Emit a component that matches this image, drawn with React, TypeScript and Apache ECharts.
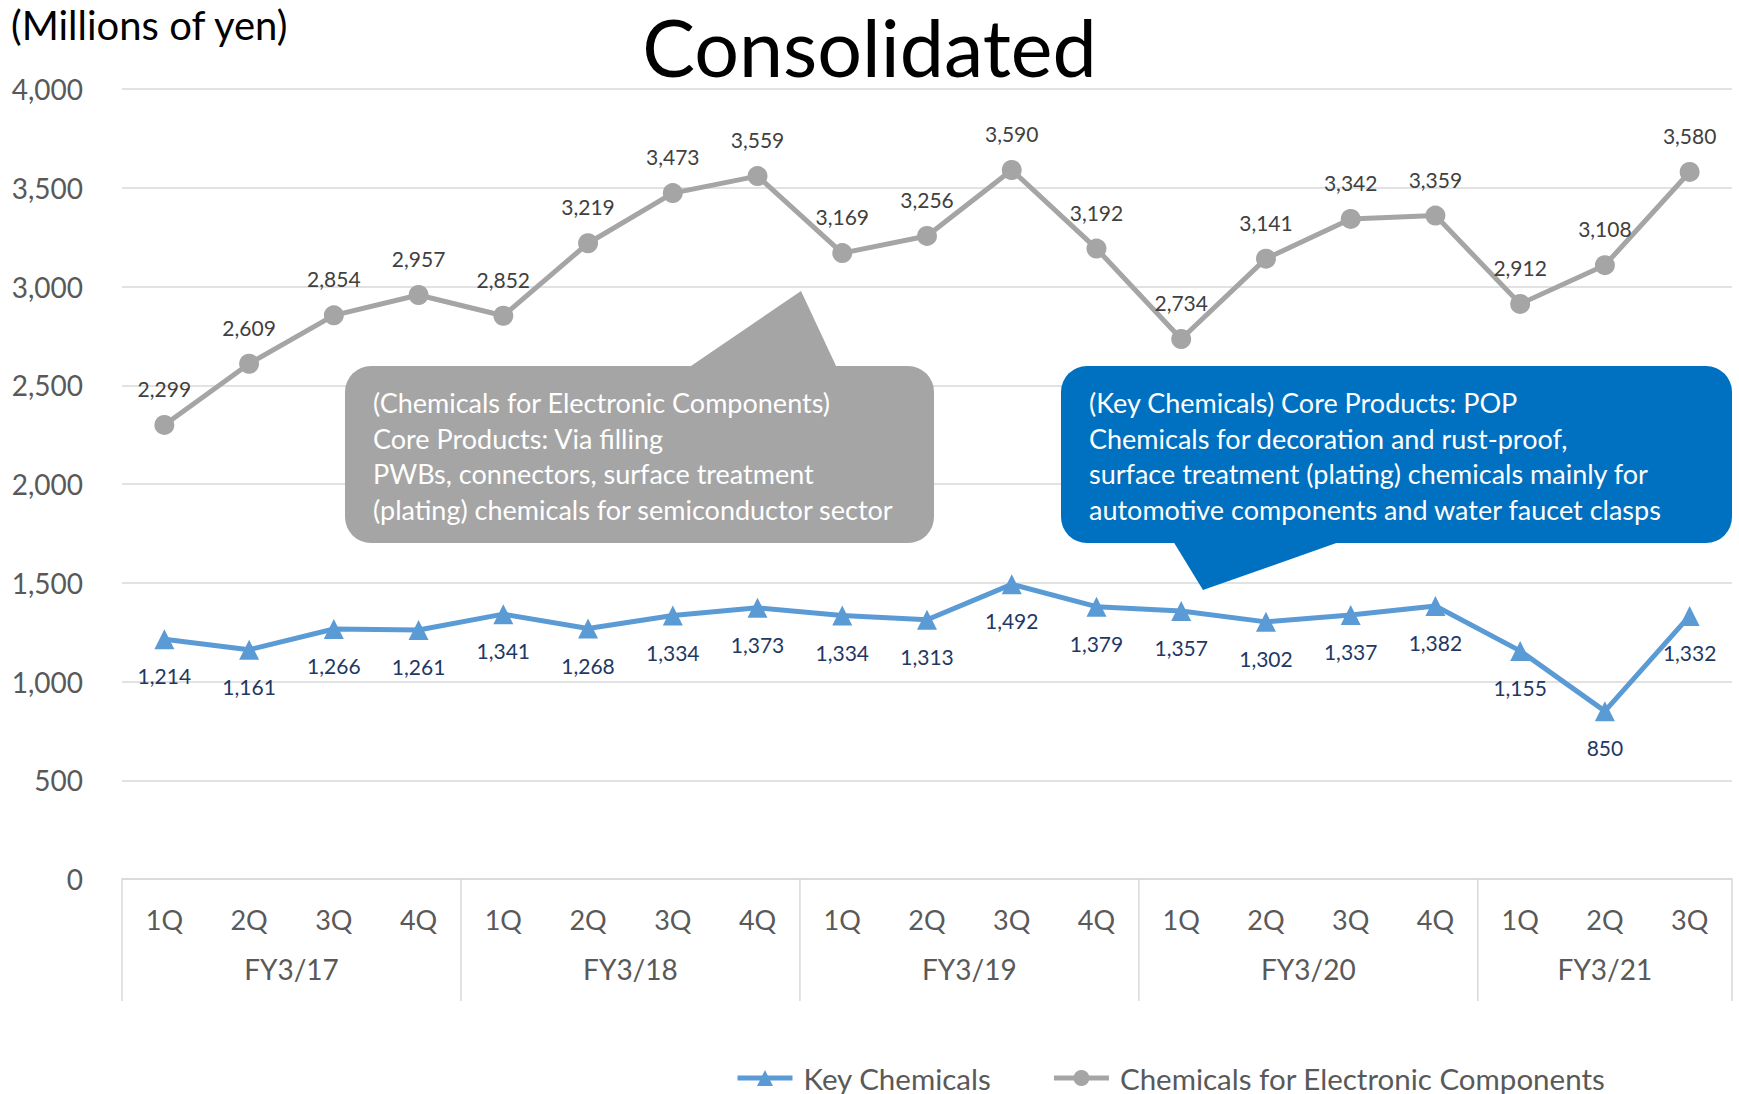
import React, { useEffect, useRef } from "react";
import * as echarts from "echarts";

// Quarterly sales by segment, millions of yen
const quarters = [
  "1Q", "2Q", "3Q", "4Q",
  "1Q", "2Q", "3Q", "4Q",
  "1Q", "2Q", "3Q", "4Q",
  "1Q", "2Q", "3Q", "4Q",
  "1Q", "2Q", "3Q",
];
const fiscalYears = ["FY3/17", "FY3/18", "FY3/19", "FY3/20", "FY3/21"];
const quartersPerYear = [4, 4, 4, 4, 3];

const keyChemicals = [
  1214, 1161, 1266, 1261,
  1341, 1268, 1334, 1373,
  1334, 1313, 1492, 1379,
  1357, 1302, 1337, 1382,
  1155, 850, 1332,
];
const electronicChemicals = [
  2299, 2609, 2854, 2957,
  2852, 3219, 3473, 3559,
  3169, 3256, 3590, 3192,
  2734, 3141, 3342, 3359,
  2912, 3108, 3580,
];

const yMin = 0;
const yMax = 4000;
const yStep = 500;

const electronicNote = [
  "(Chemicals for Electronic Components)",
  "Core Products: Via filling",
  "PWBs, connectors, surface treatment",
  "(plating) chemicals for semiconductor sector",
];
const keyNote = [
  "(Key Chemicals) Core Products: POP",
  "Chemicals for decoration and rust-proof,",
  "surface treatment (plating) chemicals mainly for",
  "automotive components and water faucet clasps",
];

const FONT = "Lato, 'Noto Sans', sans-serif";
const GRAY = "#A5A5A5";
const BLUE = "#5B9BD5";
const CALLOUT_BLUE = "#0070C0";
const AXIS_TEXT = "#595959";
const GRID_LINE = "#D9D9D9";

const fmt = (v: number) => v.toLocaleString("en-US");

export default function App() {
  const ref = useRef<HTMLDivElement>(null);

  useEffect(() => {
    document.body.style.margin = "0";
    if (!ref.current) return;
    const chart = echarts.init(ref.current, null, { renderer: "svg" });

    const calloutGraphics = [
      {
        type: "text",
        left: 11,
        top: 5,
        z: 10,
        style: {
          text: "(Millions of yen)",
          font: `40px ${FONT}`,
          fill: "#000",
        },
      },
      // grey callout for the electronic components segment
      {
        type: "polygon",
        z: 10,
        shape: { points: [[688, 368], [837, 368], [801, 291]] },
        style: { fill: GRAY },
      },
      {
        type: "rect",
        z: 10,
        shape: { x: 345, y: 366, width: 589, height: 177, r: 26 },
        style: { fill: GRAY },
      },
      {
        type: "text",
        z: 11,
        x: 373,
        y: 385,
        style: {
          text: electronicNote.join("\n"),
          font: `27px ${FONT}`,
          lineHeight: 35.5,
          fill: "#fff",
        },
      },
      // blue callout for the key chemicals segment
      {
        type: "polygon",
        z: 10,
        shape: { points: [[1173, 541], [1342, 541], [1203, 590]] },
        style: { fill: CALLOUT_BLUE },
      },
      {
        type: "rect",
        z: 10,
        shape: { x: 1061, y: 366, width: 671, height: 177, r: 26 },
        style: { fill: CALLOUT_BLUE },
      },
      {
        type: "text",
        z: 11,
        x: 1089,
        y: 385,
        style: {
          text: keyNote.join("\n"),
          font: `27px ${FONT}`,
          lineHeight: 35.5,
          fill: "#fff",
        },
      },
    ];

    chart.setOption({
      animation: false,
      backgroundColor: "#fff",
      textStyle: { fontFamily: FONT },
      title: {
        text: "Consolidated",
        left: "center",
        top: 2,
        textStyle: { fontFamily: FONT, fontSize: 79, fontWeight: "normal", color: "#000" },
      },
      grid: { left: 122, right: 7, top: 89, bottom: 215, containLabel: false },
      legend: {
        left: 730,
        top: 1058,
        itemWidth: 55,
        itemHeight: 20,
        itemGap: 60,
        lineStyle: { width: 5 },
        textStyle: { fontFamily: FONT, fontSize: 29.5, color: AXIS_TEXT, padding: [0, 0, 0, 6] },
        data: ["Key Chemicals", "Chemicals for Electronic Components"],
      },
      xAxis: {
        type: "category",
        data: quarters,
        boundaryGap: true,
        axisLine: { lineStyle: { color: GRID_LINE, width: 1.5 } },
        axisTick: { show: false },
        axisLabel: { color: AXIS_TEXT, fontSize: 27, margin: 27, interval: 0, fontFamily: FONT },
      },
      yAxis: {
        type: "value",
        min: yMin,
        max: yMax,
        interval: yStep,
        axisLine: { show: false },
        axisTick: { show: false },
        axisLabel: { color: AXIS_TEXT, fontSize: 28, margin: 39, formatter: (v: number) => fmt(v), fontFamily: FONT },
        splitLine: { lineStyle: { color: GRID_LINE, width: 1.5 } },
      },
      series: [
        {
          name: "Key Chemicals",
          type: "line",
          data: keyChemicals,
          symbol: "triangle",
          symbolSize: 20,
          lineStyle: { color: BLUE, width: 5 },
          itemStyle: { color: BLUE },
          label: {
            show: true,
            position: "bottom",
            distance: 16,
            color: "#1F3864",
            fontSize: 21,
            fontFamily: FONT,
            formatter: (p: any) => fmt(p.value),
          },
          z: 3,
        },
        {
          name: "Chemicals for Electronic Components",
          type: "line",
          data: electronicChemicals,
          symbol: "circle",
          symbolSize: 20,
          lineStyle: { color: GRAY, width: 5 },
          itemStyle: { color: GRAY },
          label: {
            show: true,
            position: "top",
            distance: 16,
            color: "#404040",
            fontSize: 21,
            fontFamily: FONT,
            formatter: (p: any) => fmt(p.value),
          },
          z: 3,
        },
      ],
      graphic: calloutGraphics,
    });

    // fiscal-year group separators and labels under the quarter labels,
    // positioned from the category axis scale
    const px = (i: number) => chart.convertToPixel({ xAxisIndex: 0 }, i) as number;
    const step = px(1) - px(0);
    const axisY = chart.convertToPixel({ yAxisIndex: 0 }, yMin) as number;
    const groupGraphics: any[] = [];
    let start = 0;
    const boundaries: number[] = [px(0) - step / 2];
    fiscalYears.forEach((fy, g) => {
      const end = start + quartersPerYear[g] - 1;
      const cx = (px(start) + px(end)) / 2;
      groupGraphics.push({
        type: "text",
        x: cx,
        y: axisY + 90,
        style: {
          text: fy,
          font: `28px ${FONT}`,
          fill: AXIS_TEXT,
          align: "center",
          verticalAlign: "middle",
        },
      });
      boundaries.push(px(end) + step / 2);
      start = end + 1;
    });
    boundaries.forEach((bx) => {
      groupGraphics.push({
        type: "line",
        shape: { x1: bx, y1: axisY, x2: bx, y2: axisY + 122 },
        style: { stroke: GRID_LINE, lineWidth: 1.5 },
      });
    });

    chart.setOption({ graphic: [...calloutGraphics, ...groupGraphics] });

    return () => chart.dispose();
  }, []);

  return <div ref={ref} style={{ width: 1739, height: 1094 }} />;
}
